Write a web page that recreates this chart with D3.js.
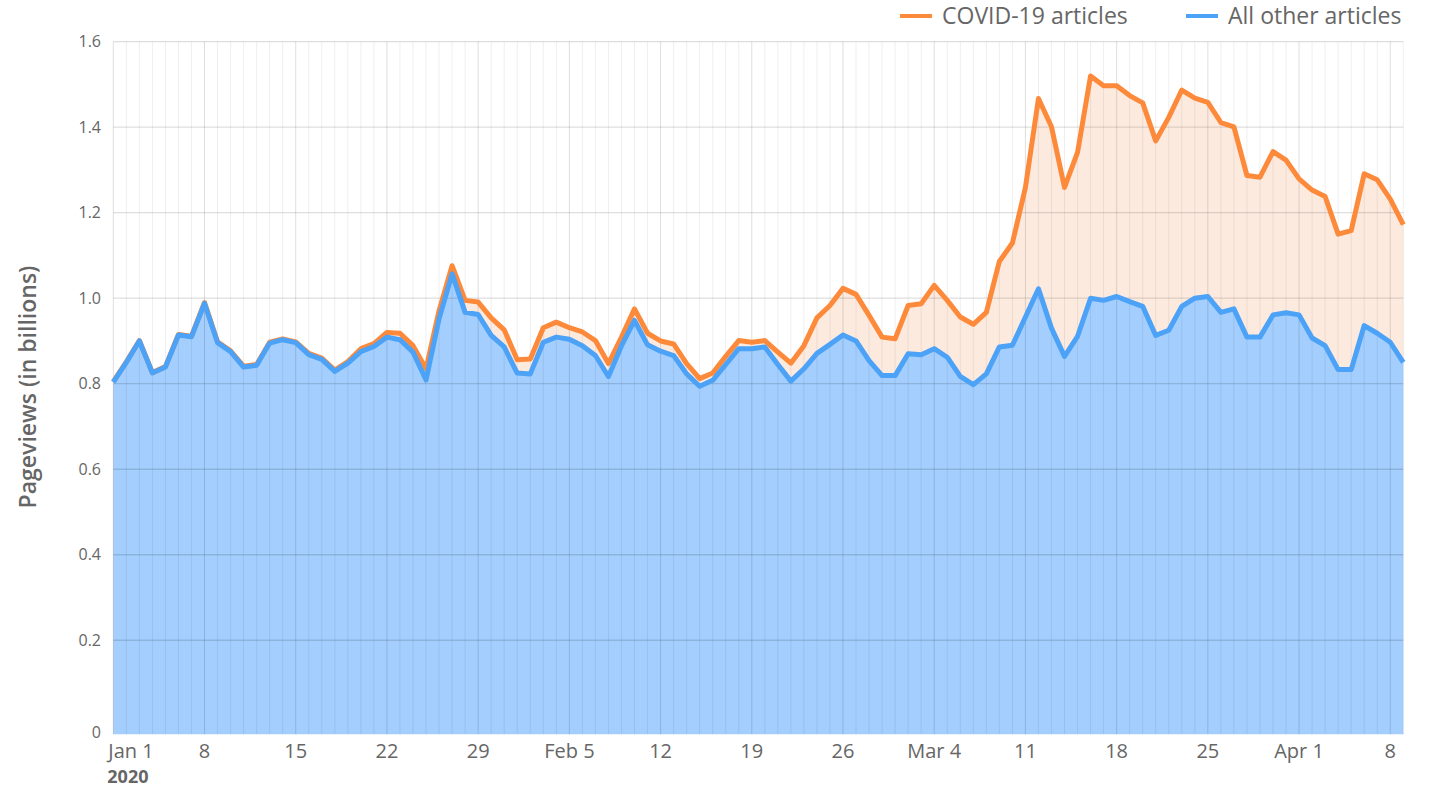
<!DOCTYPE html>
<html>
<head>
<meta charset="utf-8">
<script src="https://cdn.jsdelivr.net/npm/d3@7"></script>
<style>
  body { margin: 0; background: #fff; }
  svg { display: block; font-family: "Open Sans", sans-serif; }
</style>
</head>
<body>
<svg id="chart"></svg>
<script>
// daily pageviews in billions, Jan 1 - Apr 9 2020
const startDate = new Date(2020, 0, 1);
const endDate = new Date(2020, 3, 9);

const otherViews = [
  0.804, 0.850, 0.900, 0.825, 0.839, 0.914, 0.910, 0.988, 0.896, 0.875,
  0.839, 0.843, 0.895, 0.903, 0.896, 0.868, 0.857, 0.829, 0.848, 0.875,
  0.887, 0.909, 0.903, 0.874, 0.809, 0.952, 1.057, 0.967, 0.962, 0.913,
  0.886, 0.825, 0.823, 0.897, 0.909, 0.904, 0.889, 0.866, 0.817, 0.889,
  0.948, 0.891, 0.876, 0.866, 0.823, 0.794, 0.808, 0.845, 0.882, 0.882,
  0.886, 0.845, 0.806, 0.835, 0.871, 0.892, 0.914, 0.900, 0.854, 0.819,
  0.819, 0.870, 0.868, 0.882, 0.862, 0.817, 0.798, 0.823, 0.886, 0.890,
  0.956, 1.022, 0.930, 0.864, 0.911, 1.000, 0.995, 1.004, 0.992, 0.981,
  0.913, 0.925, 0.981, 1.000, 1.004, 0.967, 0.975, 0.909, 0.909, 0.961,
  0.966, 0.961, 0.907, 0.889, 0.833, 0.833, 0.936, 0.918, 0.897, 0.850
];

const covidViews = [
  0.001, 0.001, 0.001, 0.001, 0.001, 0.001, 0.001, 0.002, 0.002, 0.002,
  0.002, 0.002, 0.002, 0.002, 0.002, 0.003, 0.003, 0.003, 0.004, 0.007,
  0.007, 0.011, 0.015, 0.015, 0.026, 0.019, 0.019, 0.028, 0.029, 0.041,
  0.040, 0.031, 0.035, 0.034, 0.035, 0.027, 0.032, 0.035, 0.030, 0.020,
  0.027, 0.027, 0.024, 0.027, 0.024, 0.018, 0.017, 0.019, 0.019, 0.015,
  0.015, 0.029, 0.042, 0.054, 0.083, 0.091, 0.109, 0.109, 0.106, 0.090,
  0.086, 0.113, 0.119, 0.148, 0.133, 0.139, 0.141, 0.144, 0.200, 0.239,
  0.303, 0.445, 0.471, 0.395, 0.430, 0.520, 0.502, 0.493, 0.482, 0.476,
  0.455, 0.498, 0.506, 0.468, 0.454, 0.444, 0.426, 0.378, 0.374, 0.382,
  0.357, 0.318, 0.346, 0.349, 0.317, 0.325, 0.355, 0.359, 0.335, 0.322
];

const seriesNames = ['All other articles', 'COVID-19 articles'];
const yTicks = [0, 0.2, 0.4, 0.6, 0.8, 1.0, 1.2, 1.4, 1.6];
const yMin = -0.02;

const width = 1430, height = 789;
const colors = {
  other: '#4ba2f6', otherFill: '#a3cefd',
  covid: '#fd8a3b', covidFill: '#fdeadf',
  text: '#666'
};

const svg = d3.select('#chart').attr('width', width).attr('height', height);

const days = d3.timeDay.range(startDate, d3.timeDay.offset(endDate, 1));
const rows = days.map((d, i) => ({date: d, other: otherViews[i], covid: covidViews[i]}));
const stacked = d3.stack().keys(['other', 'covid'])(rows);

const x = d3.scaleTime().domain([startDate, endDate]).range([113.3, 1403.3]);
const y = d3.scaleLinear().domain([yMin, 1.6]).range([734.3, 41.7]);

// areas
const area = d3.area()
    .x(d => x(d.data.date))
    .y0(d => y(Math.max(d[0], yMin)))
    .y1(d => y(d[1]));

svg.append('path').datum(stacked[1]).attr('d', area).attr('fill', colors.covidFill);
svg.append('path').datum(stacked[0])
    .attr('d', area.y0(y(yMin)))
    .attr('fill', colors.otherFill);

// grid (drawn over the areas, semi transparent)
const grid = svg.append('g');
grid.selectAll('line.day').data(days).join('line')
    .attr('x1', d => x(d)).attr('x2', d => x(d))
    .attr('y1', y(1.6)).attr('y2', y(yMin))
    .attr('stroke', '#000')
    .attr('stroke-opacity', (d, i) => i % 7 === 0 ? 0.13 : 0.065)
    .attr('stroke-width', 1);

grid.selectAll('line.h').data(yTicks.filter(t => t > 0)).join('line')
    .attr('x1', x(startDate)).attr('x2', x(endDate))
    .attr('y1', d => y(d)).attr('y2', d => y(d))
    .attr('stroke', '#000').attr('stroke-opacity', 0.13).attr('stroke-width', 1.3);

// lines
const line = d3.line()
    .x(d => x(d.data.date))
    .y(d => y(d[1]));

svg.append('path').datum(stacked[1]).attr('d', line)
    .attr('fill', 'none').attr('stroke', colors.covid)
    .attr('stroke-width', 5).attr('stroke-linejoin', 'round');
svg.append('path').datum(stacked[0]).attr('d', line)
    .attr('fill', 'none').attr('stroke', colors.other)
    .attr('stroke-width', 5).attr('stroke-linejoin', 'round');

// y axis labels
svg.append('g').selectAll('text').data(yTicks).join('text')
    .attr('x', 101)
    .attr('y', d => d === 0 ? y(yMin) - 2 : y(d))
    .attr('dy', '0.35em')
    .attr('text-anchor', 'end')
    .attr('font-size', 16)
    .attr('fill', colors.text)
    .text(d => d === 0 ? '0' : d3.format('.1f')(d));

svg.append('text')
    .attr('transform', 'translate(36,387) rotate(-90)')
    .attr('text-anchor', 'middle')
    .attr('font-size', 23)
    .attr('font-weight', 600)
    .attr('fill', colors.text)
    .text('Pageviews (in billions)');

// x axis labels, weekly
const weeks = days.filter((d, i) => i % 7 === 0);
const fmt = (d, i) => i === 0 ? 'Jan 1'
    : d.getMonth() !== d3.timeDay.offset(d, -7).getMonth() ? d3.timeFormat('%b %-d')(d)
    : d3.timeFormat('%-d')(d);

svg.append('g').selectAll('text').data(weeks).join('text')
    .attr('x', (d, i) => i === 0 ? x(d) - 5 : x(d))
    .attr('y', 758)
    .attr('text-anchor', (d, i) => i === 0 ? 'start' : 'middle')
    .attr('font-size', 20)
    .attr('fill', colors.text)
    .text(fmt);

svg.append('text')
    .attr('x', x(startDate) - 6).attr('y', 783)
    .attr('font-size', 18).attr('font-weight', 700)
    .attr('fill', colors.text)
    .text('2020');

// legend
const legend = svg.append('g');
const legendItems = [
  {name: seriesNames[1], color: colors.covid, x: 900},
  {name: seriesNames[0], color: colors.other, x: 1186}
];
legendItems.forEach(item => {
    legend.append('line')
        .attr('x1', item.x).attr('x2', item.x + 32)
        .attr('y1', 16).attr('y2', 16)
        .attr('stroke', item.color).attr('stroke-width', 4);
    legend.append('text')
        .attr('x', item.x + 42).attr('y', 16).attr('dy', '0.35em')
        .attr('font-size', 23)
        .attr('fill', colors.text)
        .text(item.name);
});
</script>
</body>
</html>
